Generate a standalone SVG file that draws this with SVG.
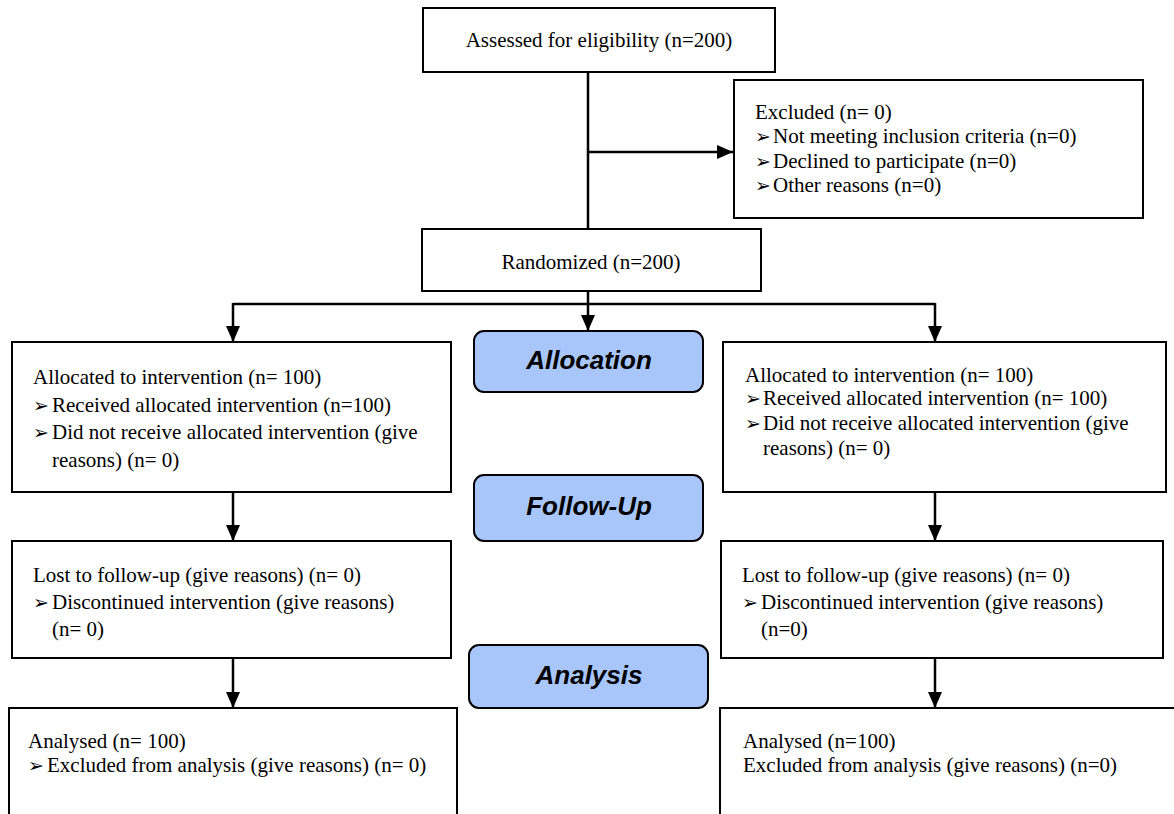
<svg xmlns="http://www.w3.org/2000/svg" width="1174" height="814" viewBox="0 0 1174 814">
<defs>
<marker id="arr" markerWidth="16" markerHeight="14" viewBox="0 0 16 14" refX="16" refY="7" orient="auto" markerUnits="userSpaceOnUse">
<path d="M0,0 L16,7 L0,14 z" fill="#000"/>
</marker>
<style>
.box{fill:#fff;stroke:#000;stroke-width:2}
.lab{fill:#a8c6fa;stroke:#000;stroke-width:2}
.t{font-family:"Liberation Serif","Times New Roman",serif;font-size:21px;fill:#000}
.c{text-anchor:middle}
.h{font-family:"Liberation Sans",Arial,sans-serif;font-size:26px;font-weight:bold;font-style:italic;text-anchor:middle;fill:#000}
.b{font-family:"DejaVu Sans",sans-serif;font-size:19px}
.ln{fill:none;stroke:#000;stroke-width:2.5}
</style>
</defs>
<rect width="1174" height="814" fill="#fff"/>
<g id="connectors">
<line class="ln" x1="588" y1="72" x2="588" y2="229"/>
<line class="ln" x1="588" y1="152" x2="733" y2="152" marker-end="url(#arr)"/>
<line class="ln" x1="233" y1="304" x2="935" y2="304"/>
<line class="ln" x1="588" y1="291" x2="588" y2="331" marker-end="url(#arr)"/>
<line class="ln" x1="233" y1="303" x2="233" y2="342" marker-end="url(#arr)"/>
<line class="ln" x1="935" y1="303" x2="935" y2="342" marker-end="url(#arr)"/>
<line class="ln" x1="233" y1="492" x2="233" y2="541" marker-end="url(#arr)"/>
<line class="ln" x1="935" y1="492" x2="935" y2="541" marker-end="url(#arr)"/>
<line class="ln" x1="233" y1="658" x2="233" y2="708" marker-end="url(#arr)"/>
<line class="ln" x1="935" y1="658" x2="935" y2="708" marker-end="url(#arr)"/>
</g>
<g id="assessed">
<rect class="box" x="423" y="8" width="352" height="64"/>
<text class="t c" x="599" y="47">Assessed for eligibility (n=200)</text>
</g>
<g id="excluded">
<rect class="box" x="734" y="80" width="409" height="138"/>
<text class="t" x="755" y="119">Excluded (n= 0)</text>
<text class="t" x="755" y="143"><tspan class="b">➢</tspan><tspan x="773">Not meeting inclusion criteria (n=0)</tspan></text>
<text class="t" x="755" y="168"><tspan class="b">➢</tspan><tspan x="773">Declined to participate (n=0)</tspan></text>
<text class="t" x="755" y="192"><tspan class="b">➢</tspan><tspan x="773">Other reasons (n=0)</tspan></text>
</g>
<g id="randomized">
<rect class="box" x="422" y="229" width="339" height="62"/>
<text class="t c" x="591" y="269">Randomized (n=200)</text>
</g>
<g id="label-allocation">
<rect class="lab" x="474" y="331" width="229" height="61" rx="10"/>
<text class="h" x="589" y="369">Allocation</text>
</g>
<g id="label-followup">
<rect class="lab" x="474" y="475" width="229" height="66" rx="10"/>
<text class="h" x="589" y="515">Follow-Up</text>
</g>
<g id="label-analysis">
<rect class="lab" x="469" y="645" width="239" height="63" rx="10"/>
<text class="h" x="589" y="684">Analysis</text>
</g>
<g id="alloc-left">
<rect class="box" x="12" y="342" width="439" height="150"/>
<text class="t" x="33" y="384">Allocated to intervention (n= 100)</text>
<text class="t" x="33" y="412"><tspan class="b">➢</tspan><tspan x="52">Received allocated intervention (n=100)</tspan></text>
<text class="t" x="33" y="439"><tspan class="b">➢</tspan><tspan x="52">Did not receive allocated intervention (give</tspan></text>
<text class="t" x="52" y="467">reasons) (n= 0)</text>
</g>
<g id="alloc-right">
<rect class="box" x="723" y="342" width="443" height="150"/>
<text class="t" x="745" y="382">Allocated to intervention (n= 100)</text>
<text class="t" x="745" y="405"><tspan class="b">➢</tspan><tspan x="763">Received allocated intervention (n= 100)</tspan></text>
<text class="t" x="745" y="430"><tspan class="b">➢</tspan><tspan x="763">Did not receive allocated intervention (give</tspan></text>
<text class="t" x="763" y="455">reasons) (n= 0)</text>
</g>
<g id="lost-left">
<rect class="box" x="12" y="541" width="439" height="117"/>
<text class="t" x="33" y="582">Lost to follow-up (give reasons) (n= 0)</text>
<text class="t" x="33" y="609"><tspan class="b">➢</tspan><tspan x="52">Discontinued intervention (give reasons)</tspan></text>
<text class="t" x="52" y="636">(n= 0)</text>
</g>
<g id="lost-right">
<rect class="box" x="721" y="541" width="442" height="117"/>
<text class="t" x="742" y="582">Lost to follow-up (give reasons) (n= 0)</text>
<text class="t" x="742" y="609"><tspan class="b">➢</tspan><tspan x="761">Discontinued intervention (give reasons)</tspan></text>
<text class="t" x="761" y="636">(n=0)</text>
</g>
<g id="analysed-left">
<rect class="box" x="9" y="708" width="448" height="120"/>
<text class="t" x="28" y="748">Analysed (n= 100)</text>
<text class="t" x="28" y="772"><tspan class="b">➢</tspan><tspan x="47">Excluded from analysis (give reasons) (n= 0)</tspan></text>
</g>
<g id="analysed-right">
<rect class="box" x="720" y="708" width="460" height="120"/>
<text class="t" x="743" y="748">Analysed (n=100)</text>
<text class="t" x="743" y="772">Excluded from analysis (give reasons) (n=0)</text>
</g>
</svg>
